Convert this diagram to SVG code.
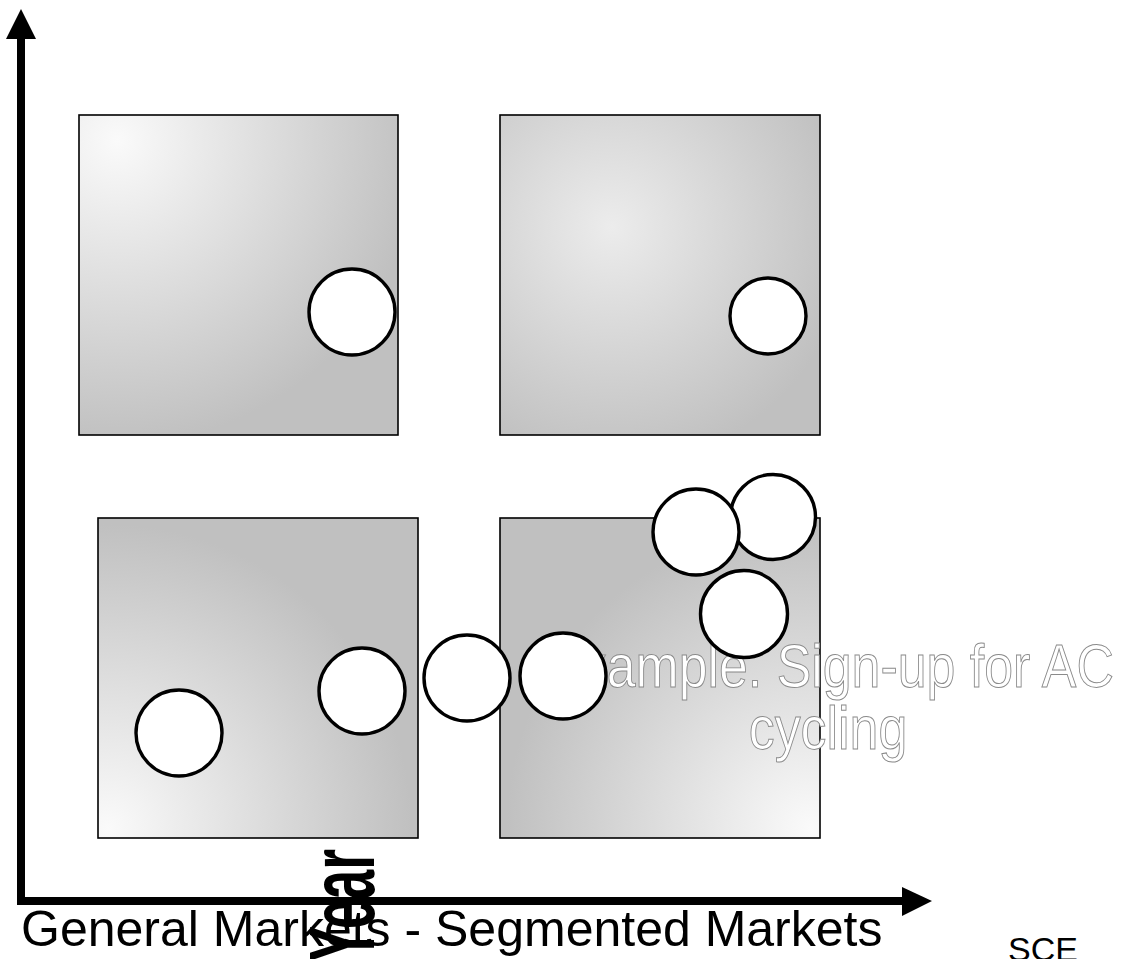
<svg xmlns="http://www.w3.org/2000/svg" width="1121" height="959" viewBox="0 0 1121 959">
<style>
.box{stroke:#000;stroke-width:1.6}
.dot{fill:#fff;stroke:#000;stroke-width:3.4}
.axis{stroke:#000;stroke-width:8;fill:none}
.lbl{font-family:"Liberation Sans",Arial,sans-serif;fill:#000}
.out{font-family:"Liberation Sans",Arial,sans-serif;fill:#fff;stroke:#8a8a8a;stroke-width:1}
</style>
<defs>
<radialGradient id="gTL" cx="0.12" cy="0.08" r="0.95" fx="0.12" fy="0.08">
<stop offset="0" stop-color="#fafafa"/><stop offset="1" stop-color="#c0c0c0"/>
</radialGradient>
<radialGradient id="gTR" cx="0.35" cy="0.35" r="0.75" fx="0.35" fy="0.35">
<stop offset="0" stop-color="#ececec"/><stop offset="1" stop-color="#c0c0c0"/>
</radialGradient>
<radialGradient id="gBL" cx="0.03" cy="0.97" r="0.95" fx="0.03" fy="0.97">
<stop offset="0" stop-color="#fafafa"/><stop offset="1" stop-color="#c0c0c0"/>
</radialGradient>
<radialGradient id="gBR" cx="0.97" cy="0.97" r="0.95" fx="0.97" fy="0.97">
<stop offset="0" stop-color="#fafafa"/><stop offset="1" stop-color="#c0c0c0"/>
</radialGradient>
</defs>
<g id="connectors">
<polyline class="axis" points="21,36 21,901 904,901"/>
<polygon points="21,9 6,39 36,39" fill="#000"/>
<polygon points="932,901 902,887 902,916" fill="#000"/>
</g>
<g id="box-tl"><rect class="box" x="79" y="115" width="319" height="320" fill="url(#gTL)"/></g>
<g id="box-tr"><rect class="box" x="500" y="115" width="320" height="320" fill="url(#gTR)"/></g>
<g id="box-bl"><rect class="box" x="98" y="518" width="320" height="320" fill="url(#gBL)"/></g>
<g id="box-br"><rect class="box" x="500" y="518" width="320" height="320" fill="url(#gBR)"/></g>
<g id="example-text">
<text class="out" transform="translate(830,687) scale(0.85,1)" text-anchor="middle" font-size="61">Example. Sign-up for AC</text>
<text class="out" transform="translate(828,749) scale(0.85,1)" text-anchor="middle" font-size="61">cycling</text>
</g>
<g id="circles">
<circle class="dot" cx="352" cy="312" r="43"/>
<circle class="dot" cx="768" cy="316" r="38"/>
<circle class="dot" cx="179" cy="733" r="43"/>
<circle class="dot" cx="362" cy="691" r="43"/>
<circle class="dot" cx="467" cy="678" r="43"/>
<circle class="dot" cx="563" cy="676" r="43"/>
<circle class="dot" cx="773" cy="517" r="42.5"/>
<circle class="dot" cx="696" cy="532" r="43"/>
<circle class="dot" cx="744" cy="614" r="43.5"/>
</g>
<g id="labels">
<text class="lbl" x="21" y="946" font-size="50">General Markets -  Segmented Markets</text>
<text class="lbl" x="1008" y="961" font-size="34">SCE</text>
<text class="lbl" transform="translate(374,849) rotate(-90) scale(0.58,1)" text-anchor="end" font-size="92" font-weight="bold">Year</text>
</g>
</svg>
